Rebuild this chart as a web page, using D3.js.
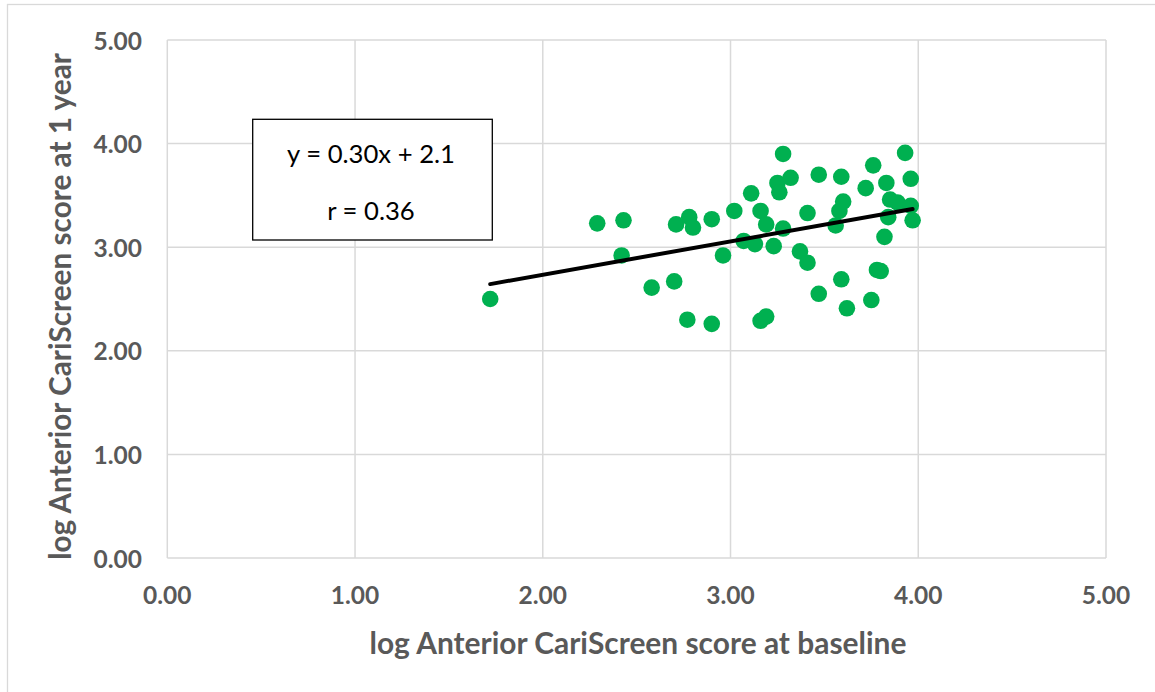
<!DOCTYPE html>
<html>
<head>
<meta charset="utf-8">
<script src="https://cdn.jsdelivr.net/npm/d3@7"></script>
<style>
    body { margin: 0; background: #fff; }
</style>
</head>
<body>
<div id="chartArea"></div>
<script>
// log scores (baseline, 1 year)
var baseline = [1.72, 2.29, 2.43, 2.42, 2.58, 2.70, 2.71, 2.78, 2.80, 2.90,
    2.77, 2.90, 2.96, 3.02, 3.07, 3.13, 3.11, 3.16, 3.19, 3.23,
    3.28, 3.25, 3.26, 3.28, 3.16, 3.19, 3.32, 3.47, 3.59, 3.76,
    3.93, 3.96, 3.72, 3.83, 3.60, 3.58, 3.56, 3.41, 3.37, 3.41,
    3.85, 3.89, 3.96, 3.84, 3.97, 3.82, 3.78, 3.80, 3.59, 3.47,
    3.62, 3.75];
var oneYear = [2.50, 3.23, 3.26, 2.92, 2.61, 2.67, 3.22, 3.29, 3.19, 3.27,
    2.30, 2.26, 2.92, 3.35, 3.06, 3.03, 3.52, 3.35, 3.22, 3.01,
    3.90, 3.62, 3.53, 3.18, 2.29, 2.33, 3.67, 3.70, 3.68, 3.79,
    3.91, 3.66, 3.57, 3.62, 3.44, 3.35, 3.21, 3.33, 2.96, 2.85,
    3.46, 3.43, 3.40, 3.29, 3.26, 3.10, 2.78, 2.77, 2.69, 2.55,
    2.41, 2.49];
var tickValues = [0, 1, 2, 3, 4, 5];
// trendline as drawn in the picture
var trendSlope = 0.322;
var trendIntercept = 2.09;
var equationText = ["y = 0.30x + 2.1", "r = 0.36"];

var width = 1155;
var height = 692;
var plot = {left: 167.3, right: 1106, top: 40, bottom: 558};

var svg = d3.select("#chartArea")
    .append("svg")
    .attr("width", width)
    .attr("height", height);

// scale a text's font size so it spans the width seen in the picture
function fitWidth(sel, target) {
    var node = sel.node();
    var size = parseFloat(sel.attr("font-size"));
    var len = node.getComputedTextLength();
    if (len > 0) sel.attr("font-size", (size * target / len).toFixed(2) + "px");
    return sel;
}

// chart border (only top and left visible)
svg.append("rect")
    .attr("x", 7.5)
    .attr("y", 4.5)
    .attr("width", 1200)
    .attr("height", 800)
    .attr("fill", "none")
    .attr("stroke", "#d9d9d9")
    .attr("stroke-width", 1.3);

var x = d3.scaleLinear().domain([0, 5]).range([plot.left, plot.right]);
var y = d3.scaleLinear().domain([0, 5]).range([plot.bottom, plot.top]);

// gridlines
svg.append("g")
    .selectAll("line")
    .data(tickValues)
    .enter()
    .append("line")
    .attr("x1", function (d) { return x(d); })
    .attr("x2", function (d) { return x(d); })
    .attr("y1", plot.top)
    .attr("y2", plot.bottom)
    .attr("stroke", "#d9d9d9")
    .attr("stroke-width", 1.5);
svg.append("g")
    .selectAll("line")
    .data(tickValues)
    .enter()
    .append("line")
    .attr("x1", plot.left)
    .attr("x2", plot.right)
    .attr("y1", function (d) { return y(d); })
    .attr("y2", function (d) { return y(d); })
    .attr("stroke", "#d9d9d9")
    .attr("stroke-width", 1.5);

// tick labels
svg.append("g")
    .selectAll("text")
    .data(tickValues)
    .enter()
    .append("text")
    .attr("x", function (d) { return x(d); })
    .attr("y", 594)
    .attr("text-anchor", "middle")
    .attr("dominant-baseline", "central")
    .attr("font-family", "Lato")
    .attr("font-weight", "bold")
    .attr("font-size", "24.5px")
    .attr("fill", "#595959")
    .text(function (d) { return d3.format(".2f")(d); });
svg.append("g")
    .selectAll("text")
    .data(tickValues)
    .enter()
    .append("text")
    .attr("x", 142)
    .attr("y", function (d) { return y(d); })
    .attr("text-anchor", "end")
    .attr("dominant-baseline", "central")
    .attr("font-family", "Lato")
    .attr("font-weight", "bold")
    .attr("font-size", "24.5px")
    .attr("fill", "#595959")
    .text(function (d) { return d3.format(".2f")(d); });

// axis titles
var xTitle = svg.append("text")
    .attr("x", 638)
    .attr("y", 642)
    .attr("text-anchor", "middle")
    .attr("dominant-baseline", "central")
    .attr("font-family", "Lato")
    .attr("font-weight", "bold")
    .attr("font-size", "24px")
    .attr("fill", "#595959")
    .text("log Anterior CariScreen score at baseline");
fitWidth(xTitle, 537);
var yTitle = svg.append("text")
    .attr("transform", "translate(59,306.5) rotate(-90)")
    .attr("text-anchor", "middle")
    .attr("dominant-baseline", "central")
    .attr("font-family", "Lato")
    .attr("font-weight", "bold")
    .attr("font-size", "24px")
    .attr("fill", "#595959")
    .text("log Anterior CariScreen score at 1 year");
fitWidth(yTitle, 507);

// points
var points = baseline.map(function (d, i) { return {bx: d, oy: oneYear[i]}; });
svg.append("g")
    .selectAll("circle")
    .data(points)
    .enter()
    .append("circle")
    .attr("cx", function (d) { return x(d.bx); })
    .attr("cy", function (d) { return y(d.oy); })
    .attr("r", 8.3)
    .attr("fill", "#00b050");

// trendline over the data range
var xExtent = d3.extent(baseline);
svg.append("line")
    .attr("x1", x(xExtent[0]))
    .attr("y1", y(trendIntercept + trendSlope * xExtent[0]))
    .attr("x2", x(xExtent[1]))
    .attr("y2", y(trendIntercept + trendSlope * xExtent[1]))
    .attr("stroke", "#000")
    .attr("stroke-width", 4)
    .attr("stroke-linecap", "round");

// equation box
svg.append("rect")
    .attr("x", 252.7)
    .attr("y", 119.3)
    .attr("width", 239.6)
    .attr("height", 120.7)
    .attr("fill", "#fff")
    .attr("stroke", "#000")
    .attr("stroke-width", 1.3);
var eq = svg.append("g")
    .selectAll("text")
    .data(equationText)
    .enter()
    .append("text")
    .attr("x", 371)
    .attr("y", function (d, i) { return 153 + i * 57; })
    .attr("text-anchor", "middle")
    .attr("dominant-baseline", "central")
    .attr("font-family", "Lato")
    .attr("font-size", "26px")
    .attr("fill", "#000")
    .text(function (d) { return d; });
fitWidth(d3.select(eq.nodes()[0]), 168);
d3.select(eq.nodes()[1]).attr("font-size", d3.select(eq.nodes()[0]).attr("font-size"));
</script>
</body>
</html>
